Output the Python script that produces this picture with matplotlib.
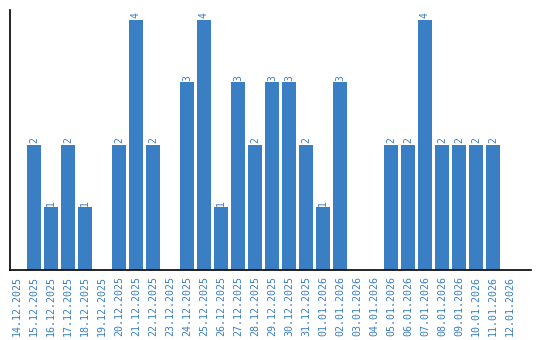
import matplotlib
matplotlib.use("Agg")
import matplotlib.pyplot as plt

dates = [
    "14.12.2025", "15.12.2025", "16.12.2025", "17.12.2025", "18.12.2025",
    "19.12.2025", "20.12.2025", "21.12.2025", "22.12.2025", "23.12.2025",
    "24.12.2025", "25.12.2025", "26.12.2025", "27.12.2025", "28.12.2025",
    "29.12.2025", "30.12.2025", "31.12.2025", "01.01.2026", "02.01.2026",
    "03.01.2026", "04.01.2026", "05.01.2026", "06.01.2026", "07.01.2026",
    "08.01.2026", "09.01.2026", "10.01.2026", "11.01.2026", "12.01.2026",
]
counts = [0, 2, 1, 2, 1, 0, 2, 4, 2, 0,
          3, 4, 1, 3, 2, 3, 3, 2, 1, 3,
          0, 0, 2, 2, 4, 2, 2, 2, 2, 0]

BLUE = "#3a7ec4"

fig = plt.figure(figsize=(5.4, 3.4), dpi=100)
ax = fig.add_axes([0.0185, 0.206, 0.965, 0.765])

x = list(range(len(dates)))
ax.bar(x, counts, width=0.82, color=BLUE)
for xi, v in zip(x, counts):
    if v > 0:
        ax.text(xi, v + 0.03, str(v), rotation=90, ha="center", va="bottom",
                fontsize=7, color=BLUE, family="DejaVu Sans Mono")

ax.set_xlim(-0.41, 30.24)
ax.set_ylim(0, 4.16)
ax.set_xticks(x)
ax.set_xticklabels(dates, rotation=90, fontsize=7.2, color=BLUE,
                   family="DejaVu Sans Mono")
ax.tick_params(axis="x", length=0, pad=4)
ax.set_yticks([])
for s in ("top", "right"):
    ax.spines[s].set_visible(False)
ax.spines["left"].set_linewidth(1.2)
ax.spines["bottom"].set_linewidth(1.2)

fig.savefig("out.png", dpi=100)
